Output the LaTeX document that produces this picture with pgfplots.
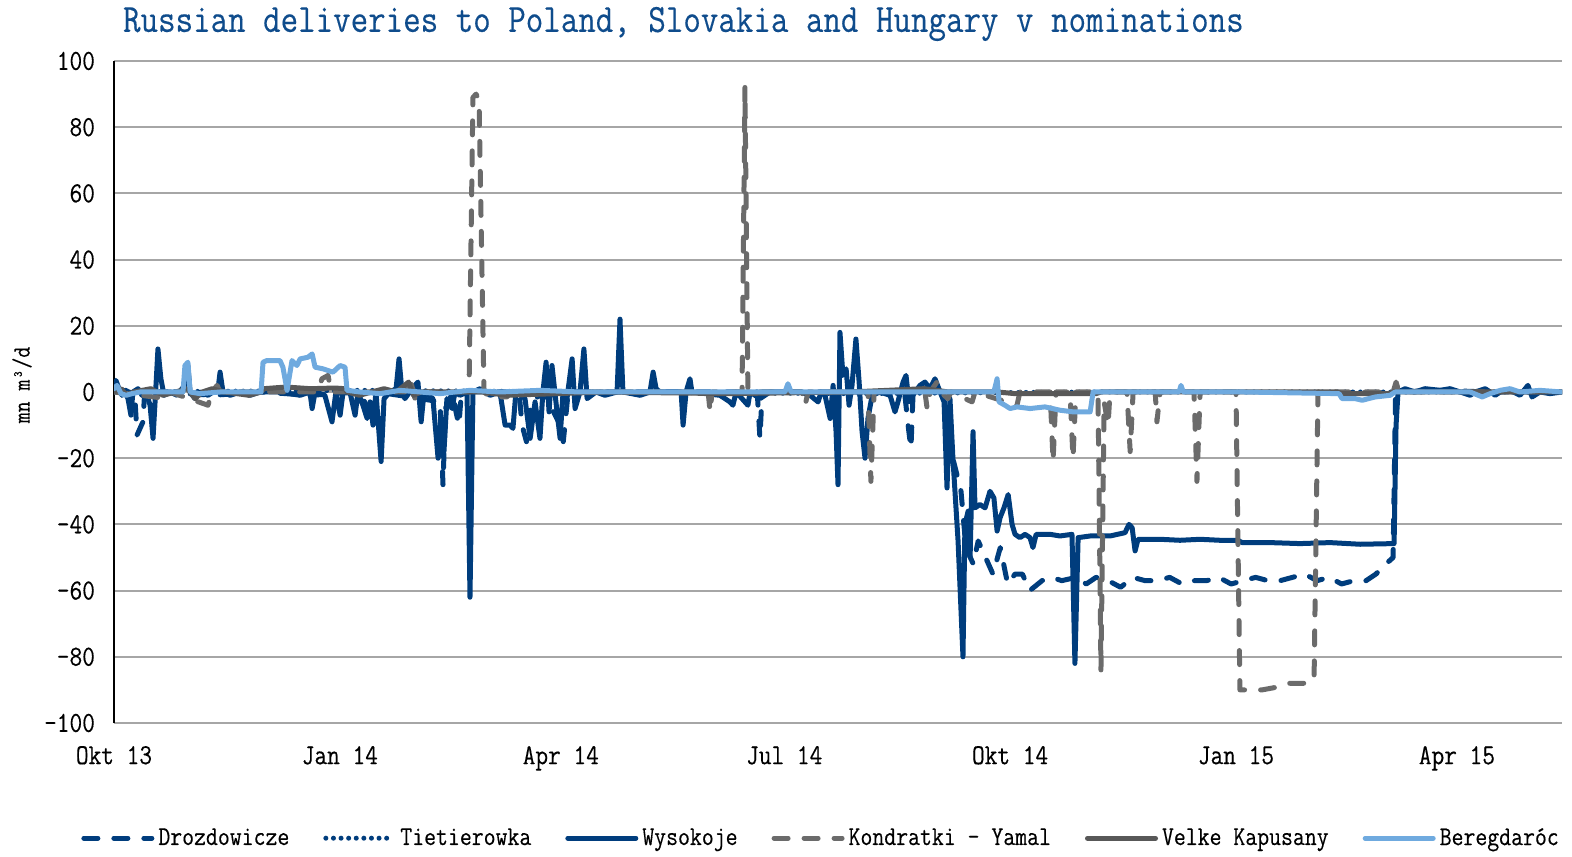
\documentclass[border=0pt]{standalone}
\usepackage{pgfplots}
\pgfplotsset{compat=1.18}
\usepackage{fontspec}
\setmainfont{Liberation Serif}
\newfontfamily\cnfont[FakeStretch=0.85, FakeBold=0.3]{Latin Modern Mono}

\definecolor{wblue}{HTML}{003D7D}
\definecolor{kgray}{HTML}{6B6B6B}
\definecolor{vgray}{HTML}{585858}
\definecolor{lblue}{HTML}{6FAADF}
\definecolor{gridgray}{HTML}{A6A6A6}
\definecolor{titleblue}{HTML}{0F4C8C}

\begin{document}
\begin{tikzpicture}
\useasboundingbox (-57pt,-66.5pt) rectangle (729pt,361.5pt);
\begin{axis}[
  scale only axis, width=724pt, height=331pt,
  xmin=0, xmax=589.8, ymin=-100, ymax=100,
  xtick={0,92,182,273,365,457,547},
  xticklabels={Okt 13,Jan 14,Apr 14,Jul 14,Okt 14,Jan 15,Apr 15},
  ytick={-100,-80,...,100},
  /pgf/number format/assume math mode=true,
  tick label style={font=\cnfont\fontsize{14.5}{16}\selectfont},
  yticklabel style={xshift=-6pt},
  xticklabel style={yshift=-8pt},
  ymajorgrids, grid style={gridgray, line width=1pt},
  axis x line*=bottom, axis y line*=left,
  axis line style={-},
  x axis line style={draw=none},
  y axis line style={black, line width=1pt},
  major tick length=0pt,
  legend columns=6,
  legend style={at={(axis description cs:0.489,-0.174)}, anchor=center, draw=none,
    font=\cnfont\fontsize{13.6}{15}\selectfont,
    /tikz/every even column/.append style={column sep=15pt}},
  legend image code/.code={\draw[#1] (0pt,0pt) -- (34pt,0pt);},
  every axis plot/.append style={line width=2.5pt, line cap=round, line join=round},
]
% Drozdowicze
\addplot[wblue, dash pattern=on 7pt off 8pt] coordinates {
 (0,0) (5,0.5) (8.6,-3) (9.4,-13) (11.8,-9) (12.5,0) (20,0) (40,-1) (60,0) (80,-1)
 (100,0) (105.5,-8) (107,0) (125,-2) (132.8,-3) (134,-28) (135,-5) (138,0) (139.3,-6)
 (140.5,-10) (141.5,0) (150,0) (165,0) (166.2,-10) (168,-15) (170,-3) (175,0)
 (181.7,-10) (183,-15) (185,0) (200,0) (230,0) (262,0) (263.1,-14) (264,0) (300,0)
 (322,0) (323.6,-11) (324.6,-17) (325.5,0) (338,0) (340,-15) (345,-30) (347,-47)
 (350,-52) (352,-45) (355,-50) (358,-55) (361,-47) (364,-58) (367,-55) (370,-55)
 (373,-60) (378,-57) (382,-56) (386,-57) (392,-56) (396,-58) (400,-56) (405,-57)
 (410,-59) (415,-56) (420,-57) (425,-57) (430,-56) (435,-58) (440,-57) (445,-57)
 (450,-56) (455,-58) (460,-57) (465,-56) (470,-57) (475,-57) (480,-56) (485,-55)
 (490,-57) (495,-56) (500,-58) (505,-57) (510,-57) (514,-55) (518,-52) (521,-50)
 (522,0) (540,0.5) (560,0) (589.8,0)
};
\addlegendentry{Drozdowicze}
% Tietierowka
\addplot[wblue, dash pattern=on 0pt off 3.8pt] coordinates {
 (0,0) (100,0.5) (200,0) (300,-0.5) (400,0) (500,0) (589.8,0)
};
\addlegendentry{Tietierowka}
% Wysokoje
\addplot[wblue] coordinates {
 (0,0) (0.8,3.5) (2,1) (3.3,-1) (4.5,0) (5.7,-2) (6.9,-7) (7.7,0) (9.8,1) (11.4,-1)
 (13,0) (14.7,-4) (15.9,-14) (17.1,2) (17.9,13) (19.1,4) (20.4,-1) (22.8,0) (25.7,-1)
 (27.7,1) (29.3,2) (30.1,8) (31,0) (33,-2) (35,0) (38.3,-1) (40.3,0) (42.4,1) (43.2,6)
 (44.4,0) (47.3,-1) (51.3,0) (55.4,-1) (59.5,0) (67.6,0) (75.8,-1) (79.8,0) (80.7,-5)
 (81.9,0) (85.9,-1) (88.8,-9) (90.4,0) (92.1,-7) (93.3,0) (96.1,0) (98.2,-7) (99.4,0)
 (101.4,-4) (103.1,-8) (104.3,-3) (105.5,-10) (106.7,0) (108.8,-21) (110,-2) (112.4,0)
 (114.9,1) (116.1,10) (117.3,0) (118.5,-2) (121.4,1) (123.8,3) (125.1,-9) (126.3,0)
 (129.9,-2) (132,-20) (133.2,-8) (134.4,-18) (135.6,-2) (137.7,-5) (138.9,0) (140.9,-1)
 (143.8,0) (145,-62) (146.2,0) (149.1,1) (153.2,-1) (157.2,0) (159.3,-10) (161.3,-10)
 (162.5,-11) (163.7,0) (167.4,-2) (169.5,-14) (171.5,-3) (173.5,-14) (174.7,0) (176,9)
 (177.2,-6) (178.4,8) (180,-3) (181.7,-14) (182.9,0) (184.5,-2) (186.6,10) (187.8,-5)
 (189.8,0) (191.4,13) (192.7,-2) (196.3,0) (200,-1) (204.9,0) (206.1,22) (207.3,0)
 (214.3,-1) (218.3,0) (219.6,6) (220.8,1) (222.4,0) (231,0) (231.8,-10) (233,0)
 (234.6,4) (235.4,0) (246.8,-1) (250.9,-3) (252.1,-4) (253.4,0) (258.2,-4) (259.1,0)
 (263.1,-2) (267.2,0) (279.4,0) (283.5,-1) (286.8,-3) (288,0) (289.6,-1) (291.7,-8)
 (292.9,2) (294.1,-12) (294.9,-28) (295.7,18) (296.9,5) (298.2,7) (299.4,-4) (300.6,2)
 (302.2,16) (303.5,3) (304.7,-12) (305.9,-20) (307.1,-8) (308.8,-1) (312,0) (316.1,-1)
 (318.1,-6) (319.3,-3) (321.4,3) (322.6,5) (323.8,-3) (326.3,0) (328.3,2) (330.3,3)
 (332.4,1) (334.4,4) (336.5,0) (338.1,-3) (339.3,-29) (340.5,-2) (341.7,-20) (343.8,-45)
 (345.8,-80) (346.6,-40) (347.9,-36) (348.7,-50) (349.9,-12) (350.7,-35) (352.7,-34)
 (354.8,-35) (356.8,-30) (358.4,-32) (359.7,-42) (360.9,-38) (362.5,-35) (364.2,-31)
 (365.8,-40) (367,-43) (369,-44) (371.1,-43) (373.1,-44) (374.3,-47) (375.6,-43)
 (381.3,-43) (385.3,-43.5) (390.2,-43) (391.4,-82) (392.7,-44) (397.6,-43.5)
 (405.7,-43.5) (411.8,-42.5) (413.4,-40) (414.7,-41) (415.9,-48) (417.1,-44.5)
 (426.1,-44.5) (434.2,-44.8) (442.4,-44.5) (450.5,-44.8) (457.8,-44.8) (459.5,-45.5)
 (470.9,-45.5) (483.1,-45.8) (495.3,-45.5) (507.6,-46) (521.4,-45.8) (522.2,-10) (523,0)
 (525.9,1) (529.9,0) (534,1) (540.1,0.5) (544.2,1) (548.3,0) (552.4,-1) (554.4,0)
 (558.5,1) (562.6,-1) (564.6,0) (568.6,0.5) (572.7,-1) (575.9,2) (577.6,-1.5) (580.8,0)
 (584.9,-0.5) (589.8,0)
};
\addlegendentry{Wysokoje}
% Kondratki - Yamal
\addplot[kgray, dash pattern=on 7pt off 8pt] coordinates {
 (0,0) (21.6,-2) (22.8,0) (38.3,-4) (39.9,0) (42,2) (43.2,0) (83.1,0) (84.7,4) (87.2,5)
 (88.4,0) (118.5,0) (120.6,4) (122.6,-2) (123.8,0) (144.6,0) (146.2,89) (147.5,90)
 (148.7,88) (150.7,0) (153.2,-1.5) (160.1,-1.5) (161.3,0) (242,0) (242.8,-6) (243.6,0)
 (255.8,0) (257,92) (258.2,0) (280.2,0) (281.5,-4) (282.7,0) (307.1,0) (308.3,-27)
 (309.6,0) (330.3,0) (331.2,-5) (332.4,0) (335.2,3) (336.5,0) (339.7,-2) (340.9,0)
 (349.5,-3) (350.7,0) (367.8,-4) (369,0) (381.3,0) (382.5,-21) (383.7,0) (389.4,0)
 (390.6,-20) (391.8,0) (400.8,0) (402,-84) (403.3,-3) (404.9,-10) (405.7,0) (412.6,0)
 (413.9,-18) (415.1,0) (424.1,0) (424.8,-9) (426.1,0) (439.9,0) (441.1,-27) (442.4,0)
 (457,0) (458.6,-90) (467.6,-90) (474.9,-89) (478.9,-88) (485.1,-88) (488.8,-87)
 (490.4,0) (521,0) (522.2,3) (523.4,0) (589.8,0)
};
\addlegendentry{Kondratki - Yamal}
% Velke Kapusany
\addplot[vgray] coordinates {
 (0,0) (3,1) (5,-1) (8,0) (15,1) (20,-1) (25,0) (30,1) (33,-2) (36,0) (40,1) (45,0)
 (55,-1) (60,0) (61,1) (70,1.5) (80,1) (90,1.2) (94,1) (95,0) (100,-1) (105,0) (110,1)
 (115,0) (120,3) (122,-1) (125,0) (150,0) (160,-1) (200,0) (250,-0.5) (300,0) (330,1)
 (340,0) (360,0) (367,-0.5) (400,-0.5) (402,0) (498,0) (500,-0.5) (519,-0.5) (521,0)
 (589.8,0)
};
\addlegendentry{Velke Kapusany}
% Beregdaroc
\addplot[lblue] coordinates {
 (0,1) (1.2,2) (2.9,-0.5) (4.9,-1) (7.3,-0.5) (10.6,0) (18.7,0) (28.1,0) (28.9,8)
 (30.1,9) (31,0) (35,-0.5) (43.2,0) (51.3,0) (59.9,0) (60.7,9) (62.3,9.5) (67.6,9.5)
 (68.8,7.5) (70.5,0.5) (72.5,9.5) (74.5,8) (75.8,10) (79,10.5) (80.7,11.5) (81.9,7.5)
 (85.1,7) (89.2,6) (92.1,8) (94.1,7.5) (94.9,0.5) (100.2,0) (108.4,-0.5) (116.5,0.5)
 (124.6,0) (132.8,-0.5) (145,0.5) (157.2,0) (173.5,0.5) (189.8,0) (206.1,0) (238.7,0)
 (273.3,0) (274.5,2.5) (275.8,0) (299.8,0) (320.2,0) (344.6,0) (358.4,0) (359.7,4)
 (360.5,-3) (362.9,-4) (365,-5) (367.8,-4.5) (373.1,-5) (379.2,-4.5) (385.3,-5.5)
 (390.6,-6) (397.6,-6) (398.8,0) (409.8,0) (433.8,0) (434.6,2) (435.5,0) (460.3,0)
 (499,-0.5) (500.2,-2) (505.5,-2) (508.4,-2.5) (513.7,-1.5) (519.8,-1) (521.8,0)
 (532,0) (552.4,0) (557.3,-1.5) (560.5,-0.5) (564.6,0.5) (568.6,1) (572.7,0)
 (580.8,0.5) (589.8,0)
};
\addlegendentry{Beregdaróc}
\end{axis}
\node[anchor=west, text=titleblue, font=\cnfont\fontsize{20}{22}\selectfont] at (1pt,349.5pt)
  {Russian deliveries to Poland, Slovakia and Hungary v nominations};
\node[rotate=90, font=\cnfont\fontsize{12.5}{14}\selectfont] at (-46pt,169pt) {mn m³/d};
\end{tikzpicture}
\end{document}
